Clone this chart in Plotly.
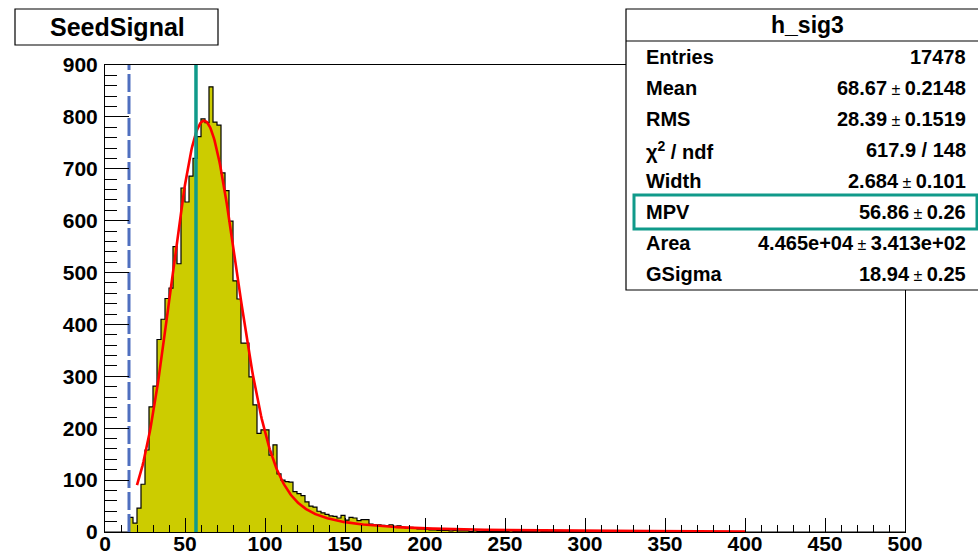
import numpy as np
import plotly.graph_objects as go

# ---- histogram h_sig3: 200 bins of width 2.5 on [0, 500] ----
bin_lo = 0.0
bin_width = 2.5
counts = [
    0, 0, 0, 0, 0, 0,
    28, 17, 46, 92, 158, 241, 281, 371, 410, 450,
    470, 550, 517, 663, 636, 686, 720, 762, 796, 789,
    858, 790, 784, 692, 658, 599, 484, 449, 364, 364,
    299, 245, 190, 197, 197, 148, 168, 112, 100, 97,
    96, 78, 74, 70, 58, 50, 48, 40, 37, 34,
    31, 30, 27, 32, 23, 28, 27, 22, 24, 24,
    15, 14, 14, 13, 12, 14, 11, 12, 9, 8,
    9, 7, 6, 6, 5, 4, 4, 3, 3, 3,
    2, 3, 2, 2, 2, 1, 2, 1, 1, 1,
    1, 1, 1, 1, 1, 2, 1, 1, 1, 1,
    1, 1, 2, 1, 1, 1, 1, 1, 1, 1,
    1, 1, 1, 1, 1, 1, 1, 1, 1, 1,
    1, 1, 1, 1, 1, 1, 1, 1, 1, 1,
    1, 1, 1, 1, 1, 1, 1, 1, 1, 1,
    1, 1, 1, 1, 1, 1, 1, 1, 1, 1,
    1, 1, 1, 1,
    0, 0, 0, 0, 0, 0, 0, 0, 0, 0,
    0, 0, 0, 0, 0, 0, 0, 0, 0, 0,
    0, 0, 0, 0, 0, 0, 0, 0, 0, 0,
    0, 0, 0, 0, 0, 0, 0, 0, 0, 0,
]

# ---- Landau (x) Gauss fit result ----
fit_range = [20.0, 400.0]
lan_width = 2.684
lan_mpv = 56.86
lan_area = 4.465e4
gauss_sigma = 18.94

threshold_x = 15.0

x_tick_vals = list(range(0, 501, 50))
y_tick_vals = list(range(0, 901, 100))

stats_title = "h_sig3"
stats_names = ["Entries", "Mean", "RMS", "χ<sup>2</sup> / ndf", "Width", "MPV", "Area", "GSigma"]
stats_main = ["17478", "68.67", "28.39", "617.9 / 148", "2.684", "56.86", "4.465e+04", "18.94"]
stats_err = [None, "0.2148", "0.1519", None, "0.101", "0.26", "3.413e+02", "0.25"]
plot_title = "SeedSignal"


# ---- Landau density (CERNLIB DENLAN rational approximations) ----
P1 = [0.4259894875, -0.1249762550, 0.03984243700, -0.006298287635, 0.001511162253]
Q1 = [1.0, -0.3388260629, 0.09594393323, -0.01608042283, 0.003778942063]
P2 = [0.1788541609, 0.1173957403, 0.01488850518, -0.001394989411, 0.0001283617211]
Q2 = [1.0, 0.7428795082, 0.3153932961, 0.06694219548, 0.008790609714]
P3 = [0.1788544503, 0.09359161662, 0.006325387654, 0.00006611667319, -0.000002031049101]
Q3 = [1.0, 0.6097809921, 0.2560616665, 0.04746722384, 0.006957301675]
P4 = [0.9874054407, 118.6723273, 849.2794360, -743.7792444, 427.0262186]
Q4 = [1.0, 106.8615961, 337.6496214, 2016.712389, 1597.063511]
P5 = [1.003675074, 167.5702434, 4789.711289, 21217.86767, -22324.94910]
Q5 = [1.0, 156.9424537, 3745.310488, 9834.698876, 66924.28357]
P6 = [1.000827619, 664.9143136, 62972.92665, 475554.6998, -5743609.109]
Q6 = [1.0, 651.4101098, 56974.73333, 165917.4725, -2815759.939]
A1 = [0.04166666667, -0.01996527778, 0.02709538966]
A2 = [-1.845568670, -4.284640743]


def _poly(c, t):
    return c[0] + (c[1] + (c[2] + (c[3] + c[4] * t) * t) * t) * t


def denlan(v):
    if v < -5.5:
        u = np.exp(v + 1.0)
        if u < 1e-10:
            return 0.0
        return 0.3989422803 * (np.exp(-1.0 / u) / np.sqrt(u)) * (1 + (A1[0] + (A1[1] + A1[2] * u) * u) * u)
    if v < -1:
        u = np.exp(-v - 1)
        return np.exp(-u) * np.sqrt(u) * _poly(P1, v) / _poly(Q1, v)
    if v < 1:
        return _poly(P2, v) / _poly(Q2, v)
    if v < 5:
        return _poly(P3, v) / _poly(Q3, v)
    if v < 12:
        u = 1 / v
        return u * u * _poly(P4, u) / _poly(Q4, u)
    if v < 50:
        u = 1 / v
        return u * u * _poly(P5, u) / _poly(Q5, u)
    if v < 300:
        u = 1 / v
        return u * u * _poly(P6, u) / _poly(Q6, u)
    u = 1 / (v - v * np.log(v) / (v + 1))
    return u * u * (1 + (A2[0] + A2[1] * u) * u)


denlan_v = np.vectorize(denlan)


def langau(x, width, mpv, area, gsigma, nsteps=200, sc=5.0):
    mpc = mpv + 0.22278298 * width
    xlow = x - sc * gsigma
    step = 2 * sc * gsigma / nsteps
    xx = xlow + (np.arange(nsteps) + 0.5) * step
    fland = denlan_v((xx - mpc) / width) / width
    g = np.exp(-0.5 * ((x - xx) / gsigma) ** 2)
    return area * step * np.sum(fland * g) / (np.sqrt(2 * np.pi) * gsigma)


fit_x = np.linspace(fit_range[0], fit_range[1], 761)
fit_y = np.array([langau(v, lan_width, lan_mpv, lan_area, gauss_sigma) for v in fit_x])

# step outline of the histogram
edges = bin_lo + bin_width * np.arange(len(counts) + 1)
step_x = edges
step_y = list(counts) + [counts[-1]]

# ---- figure geometry (pixels) ----
W, H = 978, 553
FL, FR, FT, FB = 105, 905, 65, 532


def px(p):
    return (p - FL) / (FR - FL)


def py(p):
    return (FB - p) / (FB - FT)


fig = go.Figure()

fig.add_trace(go.Scatter(
    x=step_x, y=step_y, mode="lines", line=dict(shape="hv", color="black", width=1.2),
    fill="tozeroy", fillcolor="#cccc00", hoverinfo="skip", showlegend=False,
))

fig.add_trace(go.Scatter(
    x=fit_x, y=fit_y, mode="lines", line=dict(color="#ff0000", width=2.6),
    hoverinfo="skip", showlegend=False,
))

# threshold and MPV markers
fig.add_trace(go.Scatter(
    x=[threshold_x, threshold_x], y=[0, 900], mode="lines",
    line=dict(color="#4f6fbf", width=3, dash="18px,4px"), showlegend=False, hoverinfo="skip",
))
fig.add_trace(go.Scatter(
    x=[lan_mpv, lan_mpv], y=[0, 900], mode="lines",
    line=dict(color="#109a8a", width=3.5), showlegend=False, hoverinfo="skip",
))

tick_font = dict(family="Liberation Sans, Arial, sans-serif", size=21, color="black", weight="bold")

fig.update_xaxes(
    range=[0, 500], tickvals=x_tick_vals, ticktext=[str(v) for v in x_tick_vals],
    showline=True, linecolor="black", linewidth=1, mirror=True,
    ticks="inside", ticklen=14, tickwidth=1, tickcolor="black",
    minor=dict(dtick=10, ticks="inside", ticklen=7, tickwidth=1, tickcolor="black"),
    showgrid=False, zeroline=False, tickfont=tick_font, ticklabelstandoff=-7,
)
fig.update_yaxes(
    range=[0, 900], tickvals=y_tick_vals, ticktext=[str(v) for v in y_tick_vals],
    showline=True, linecolor="black", linewidth=1, mirror=True,
    ticks="inside", ticklen=24, tickwidth=1, tickcolor="black",
    minor=dict(dtick=20, ticks="inside", ticklen=12, tickwidth=1, tickcolor="black"),
    showgrid=False, zeroline=False, tickfont=tick_font, ticklabelstandoff=2,
)

shapes = []
annotations = []

# title box
shapes.append(dict(type="rect", xref="paper", yref="paper",
                   x0=px(15), x1=px(218), y0=py(9), y1=py(45),
                   line=dict(color="black", width=1.2), fillcolor="white", layer="above"))
annotations.append(dict(xref="paper", yref="paper", x=px(117), y=py(27), text=plot_title,
                        showarrow=False, xanchor="center", yanchor="middle",
                        font=dict(family="Liberation Sans, Arial, sans-serif", size=25,
                                  color="black", weight="bold")))

# statistics box
SB_L, SB_R, SB_T, SB_B = 626, 990, 9, 290
shapes.append(dict(type="rect", xref="paper", yref="paper",
                   x0=px(SB_L), x1=px(SB_R), y0=py(SB_T), y1=py(SB_B),
                   line=dict(color="black", width=1.2), fillcolor="white", layer="above"))
shapes.append(dict(type="line", xref="paper", yref="paper",
                   x0=px(SB_L), x1=px(SB_R), y0=py(41), y1=py(41),
                   line=dict(color="black", width=1.2), layer="above"))
annotations.append(dict(xref="paper", yref="paper", x=px(807), y=py(25), text=stats_title,
                        showarrow=False, xanchor="center", yanchor="middle",
                        font=dict(family="Liberation Sans, Arial, sans-serif", size=23,
                                  color="black", weight="bold")))

row_font = dict(family="Liberation Sans, Arial, sans-serif", size=20, color="black", weight="bold")
pm = "<span style='font-weight:normal;font-size:16px'> ± </span>"
for i, (name, main, err) in enumerate(zip(stats_names, stats_main, stats_err)):
    yc = 57 + 31 * i
    annotations.append(dict(xref="paper", yref="paper", x=px(644), y=py(yc), text=name,
                            showarrow=False, xanchor="left", yanchor="middle", font=row_font))
    value = main if err is None else main + pm + err
    annotations.append(dict(xref="paper", yref="paper", x=px(968), y=py(yc), text=value,
                            showarrow=False, xanchor="right", yanchor="middle", font=row_font))

# MPV row highlight
shapes.append(dict(type="rect", xref="paper", yref="paper",
                   x0=px(634), x1=px(977), y0=py(195), y1=py(229),
                   line=dict(color="#109a8a", width=3), layer="above"))

fig.update_layout(
    width=W, height=H, autosize=False,
    margin=dict(l=FL, r=W - FR, t=FT, b=H - FB, pad=0, autoexpand=False),
    paper_bgcolor="white", plot_bgcolor="white",
    shapes=shapes, annotations=annotations, showlegend=False,
)

fig.write_html("out.html")
